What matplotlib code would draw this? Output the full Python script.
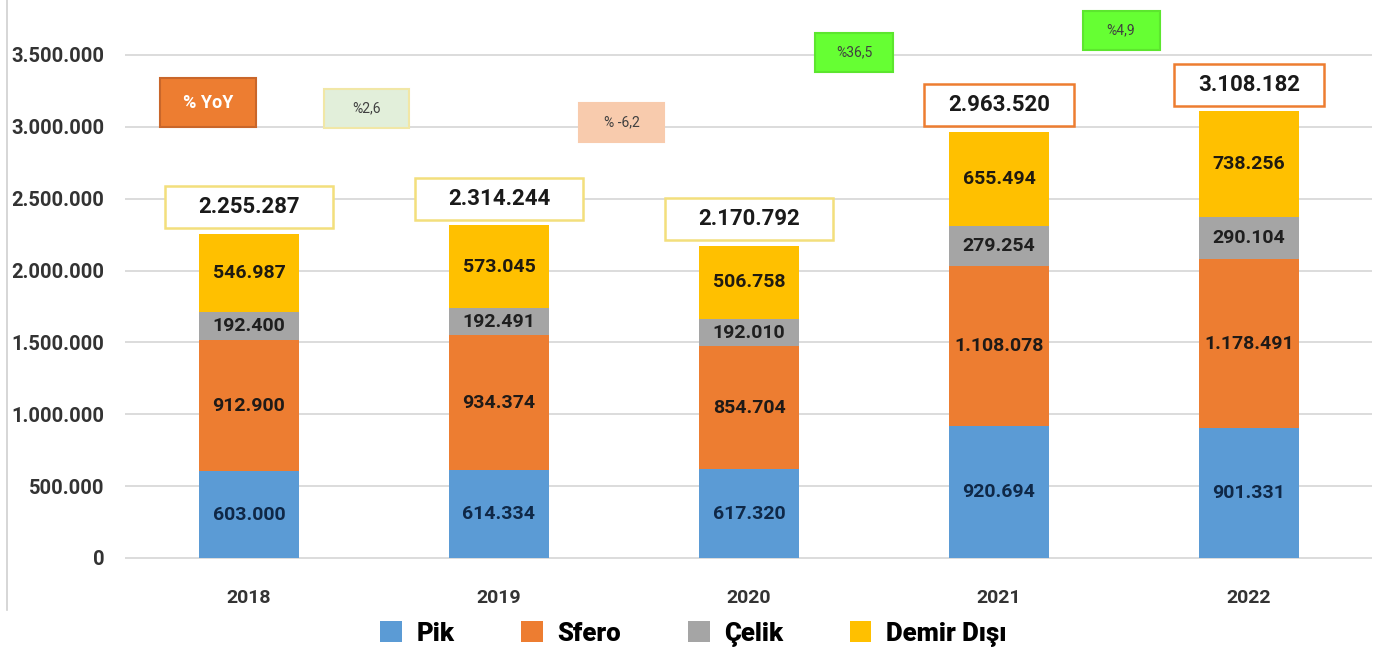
import matplotlib.pyplot as plt
from matplotlib.patches import Rectangle, Patch
from matplotlib.lines import Line2D

years = ["2018", "2019", "2020", "2021", "2022"]
pik = [603000, 614334, 617320, 920694, 901331]
sfero = [912900, 934374, 854704, 1108078, 1178491]
celik = [192400, 192491, 192010, 279254, 290104]
demir = [546987, 573045, 506758, 655494, 738256]
totals = [2255287, 2314244, 2170792, 2963520, 3108182]
series_names = ["Pik", "Sfero", "Çelik", "Demir Dışı"]
yoy_labels = ["% YoY", "%2,6", "% -6,2", "%36,5", "%4,9"]

colors = ["#5b9bd5", "#ed7d31", "#a5a5a5", "#ffc000"]
label_colors = ["#0f2847", "#1f1a17", "#1f1f1f", "#1f1a10"]


def fmt(v):
    return f"{v:,}".replace(",", ".")


fig = plt.figure(figsize=(13.81, 6.53), dpi=100)
ax = fig.add_axes([0.0905, 0.1409, 0.903, 0.8591])

px_y = 6954  # data units per pixel on y axis
px_x = 1 / 250

x = list(range(len(years)))
bottom = [0] * len(years)
for vals, col, lcol in zip([pik, sfero, celik, demir], colors, label_colors):
    ax.bar(x, vals, width=0.4, bottom=bottom, color=col, zorder=3)
    for i, v in enumerate(vals):
        ax.text(i, bottom[i] + v / 2, fmt(v), ha="center", va="center",
                fontsize=14, fontweight="bold", family="Roboto", color=lcol, zorder=4)
    bottom = [b + v for b, v in zip(bottom, vals)]

# total boxes
for i, t in enumerate(totals):
    w = 0.67 if i < 3 else 0.6
    h = 42 * px_y
    cy = t + 185000
    edge = "#f3df7c" if i < 3 else "#ed7d31"
    ax.add_patch(Rectangle((i - w / 2, cy - h / 2), w, h, facecolor="white",
                           edgecolor=edge, linewidth=1.8, zorder=5))
    ax.text(i, cy, fmt(t), ha="center", va="center", fontsize=16,
            fontweight="bold", family="Roboto", color="#1a1a1a", zorder=6)

# YoY boxes
yoy_pos = [(-0.164, 3168000), (0.472, 3130000), (1.492, 3032000),
           (2.42, 3519000), (3.488, 3672000)]
yoy_size = [(96, 49), (85, 39), (85, 39), (78, 39), (77, 39)]
yoy_face = ["#ed7d31", "#e2efda", "#f8cbad", "#66ff33", "#66ff33"]
yoy_edge = ["#c9662a", "#f1e7a6", "#f8cbad", "#5ce62e", "#5ce62e"]
for i, lab in enumerate(yoy_labels):
    cx, cy = yoy_pos[i]
    w = yoy_size[i][0] * px_x
    h = yoy_size[i][1] * px_y
    ax.add_patch(Rectangle((cx - w / 2, cy - h / 2), w, h, facecolor=yoy_face[i],
                           edgecolor=yoy_edge[i], linewidth=1.5, zorder=5))
    if i == 0:
        ax.text(cx, cy, lab, ha="center", va="center", fontsize=13,
                fontweight="bold", family="Roboto", color="white", zorder=6)
    else:
        ax.text(cx, cy, lab, ha="center", va="center", fontsize=10,
                family="Roboto", color="#404040", zorder=6)

ax.set_xlim(-0.496, 4.492)
ax.set_ylim(-3 * px_y, 3500000 + 55 * px_y)
ticks = list(range(0, 3500001, 500000))
ax.set_yticks(ticks)
ax.set_yticklabels([fmt(t) for t in ticks], fontsize=14.5, fontweight="bold",
                   family="Roboto", color="#333333")
ax.set_xticks(x)
ax.set_xticklabels(years, fontsize=14, fontweight="bold", family="Roboto",
                   color="#333333")
ax.tick_params(axis="both", length=0)
ax.tick_params(axis="y", pad=15)
ax.tick_params(axis="x", pad=20)
ax.grid(axis="y", color="#d9d9d9", linewidth=1.3, zorder=0)
ax.set_axisbelow(True)
for s in ax.spines.values():
    s.set_visible(False)

fig.add_artist(Line2D([0.005, 0.005], [0.066, 1.0], color="#d0d0d0",
                      linewidth=1.2, transform=fig.transFigure))

handles = [Patch(facecolor=c, edgecolor="none") for c in colors]
fig.legend(handles, series_names, loc="center", bbox_to_anchor=(0.502, 0.029),
           ncol=4, frameon=False, handlelength=0.85, handleheight=0.85,
           handletextpad=0.55, columnspacing=2.6,
           prop={"family": "Roboto", "weight": "heavy", "size": 18.5})

fig.savefig("out.png", dpi=100)
